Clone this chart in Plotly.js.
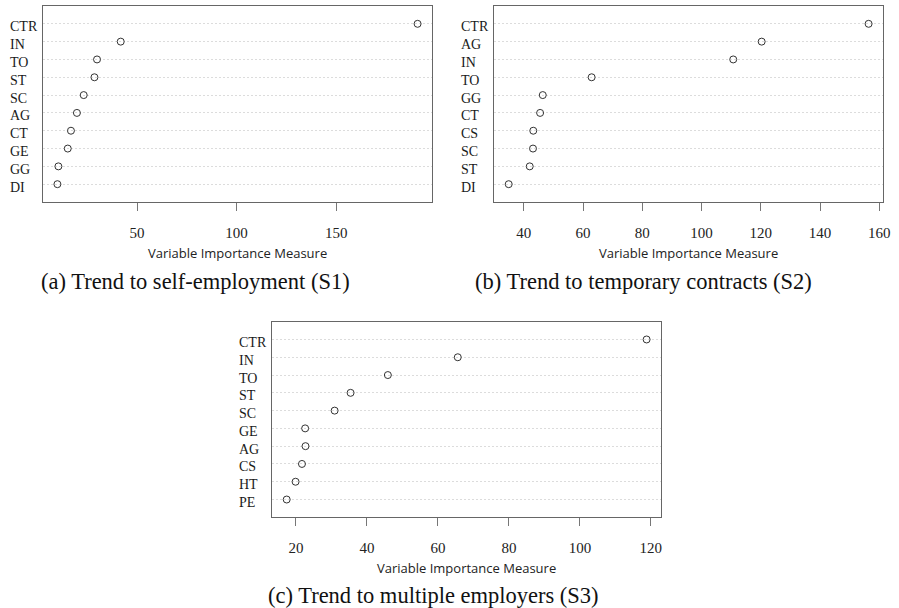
<!DOCTYPE html>
<html>
<head>
<meta charset="utf-8">
<script src="https://cdn.plot.ly/plotly-3.0.1.min.js"></script>
<style>
  html, body { margin: 0; padding: 0; background: #ffffff; }
  #chart { width: 899px; height: 608px; }
</style>
</head>
<body>
<div id="chart"></div>
<script>
// Variable importance, one dot chart per employment trend (top row = most important)
const varsS1 = ["CTR", "IN", "TO", "ST", "SC", "AG", "CT", "GE", "GG", "DI"];
const vimS1  = [190.9, 41.8, 29.9, 28.6, 23.2, 19.8, 16.8, 15.2, 10.5, 10.0];

const varsS2 = ["CTR", "AG", "IN", "TO", "GG", "CT", "CS", "SC", "ST", "DI"];
const vimS2  = [156.4, 120.3, 110.7, 62.9, 46.4, 45.5, 43.2, 43.1, 42.0, 34.9];

const varsS3 = ["CTR", "IN", "TO", "ST", "SC", "GE", "AG", "CS", "HT", "PE"];
const vimS3  = [118.8, 65.6, 45.9, 35.4, 30.9, 22.6, 22.7, 21.7, 19.9, 17.4];

const ticksS1 = [50, 100, 150];
const ticksS2 = [40, 60, 80, 100, 120, 140, 160];
const ticksS3 = [20, 40, 60, 80, 100, 120];

const captions = [
  "(a) Trend to self-employment (S1)",
  "(b) Trend to temporary contracts (S2)",
  "(c) Trend to multiple employers (S3)"
];
const axisTitle = "Variable Importance Measure";

const W = 899, H = 608;
const px = v => v / W;
const py = v => 1 - v / H;

const SERIF = "Liberation Serif, Times New Roman, serif";
const SANS = "Open Sans, Noto Sans, sans-serif";

// padded x range like an R dotchart (4% each side)
function padRange(vals) {
  const lo = Math.min(...vals), hi = Math.max(...vals);
  const d = (hi - lo) * 0.04;
  return [lo - d, hi + d];
}

const panels = [
  { vars: varsS1, vals: vimS1, ticks: ticksS1, box: [43, 432, 6, 202],    labelX: 8,   capX: 195, capY: 281.5, titleY: 253 },
  { vars: varsS2, vals: vimS2, ticks: ticksS2, box: [494.3, 883, 6, 202], labelX: 459, capX: 643, capY: 281.5, titleY: 253 },
  { vars: varsS3, vals: vimS3, ticks: ticksS3, box: [272.3, 661, 321.7, 517.3], labelX: 236.5, capX: 433, capY: 595, titleY: 568.3 }
];

const traces = [];
const layout = {
  width: W, height: H, autosize: false,
  margin: { l: 0, r: 0, t: 0, b: 0, pad: 0 },
  paper_bgcolor: "#ffffff", plot_bgcolor: "#ffffff",
  showlegend: false,
  annotations: []
};

panels.forEach((p, i) => {
  const n = i === 0 ? "" : String(i + 1);
  const xa = "x" + n, ya = "y" + n;
  traces.push({
    type: "scatter", mode: "markers",
    x: p.vals, y: p.vars,
    xaxis: xa, yaxis: ya,
    marker: { symbol: "circle-open", size: 7, color: "#333333", line: { width: 1, color: "#333333" } },
    hoverinfo: "x+y"
  });
  const [x0, x1, y0, y1] = p.box;
  layout["xaxis" + n] = {
    domain: [px(x0), px(x1)],
    anchor: ya,
    range: padRange(p.vals), autorange: false,
    tickmode: "array", tickvals: p.ticks, ticktext: p.ticks.map(String),
    ticks: "outside", ticklen: 8, tickwidth: 1, tickcolor: "#777777",
    ticklabelstandoff: 9,
    tickfont: { family: SERIF, size: 15, color: "#222222" },
    showline: true, mirror: true, linecolor: "#666666", linewidth: 1,
    showgrid: false, zeroline: false
  };
  layout["yaxis" + n] = {
    domain: [py(y1), py(y0)],
    anchor: xa,
    type: "category", categoryorder: "array", categoryarray: p.vars,
    range: [p.vars.length, -1], autorange: false,
    showticklabels: false, ticks: "",
    showline: true, mirror: true, linecolor: "#666666", linewidth: 1,
    showgrid: true, gridcolor: "#dcdcdc", gridwidth: 1, griddash: "2px,2px",
    zeroline: false
  };
  // row labels, left aligned, sitting slightly below their row line
  p.vars.forEach(v => {
    layout.annotations.push({
      xref: "paper", yref: ya, x: px(p.labelX), y: v,
      xanchor: "left", yanchor: "middle", showarrow: false, yshift: -3,
      text: v, font: { family: SERIF, size: 14, color: "#1a1a1a" }
    });
  });
  // axis title
  layout.annotations.push({
    xref: "paper", yref: "paper", x: px((x0 + x1) / 2), y: py(p.titleY),
    xanchor: "center", yanchor: "middle", showarrow: false,
    text: axisTitle, font: { family: SANS, size: 13, color: "#222222" }
  });
  // caption
  layout.annotations.push({
    xref: "paper", yref: "paper", x: px(p.capX), y: py(p.capY),
    xanchor: "center", yanchor: "middle", showarrow: false,
    text: captions[i], font: { family: SERIF, size: 22.5, color: "#111111" }
  });
});

Plotly.newPlot("chart", traces, layout, { staticPlot: true, displayModeBar: false });
</script>
</body>
</html>
